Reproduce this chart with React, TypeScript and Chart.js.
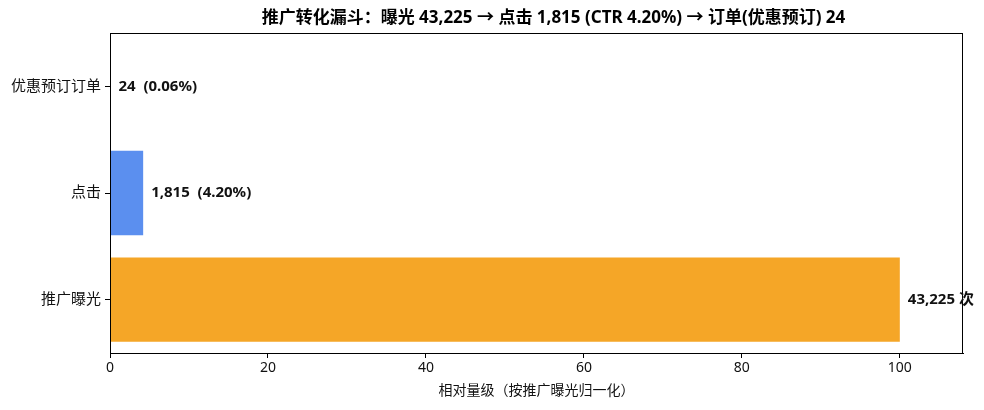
import { useEffect, useRef } from "react"
import { Chart, registerables } from "chart.js"

Chart.register(...registerables)

const categories = ["优惠预订订单", "点击", "推广曝光"]
const counts = [24, 1815, 43225]
const valueLabels = ["24  (0.06%)", "1,815  (4.20%)", "43,225 次"]
const barColors = ["#5B8FEF", "#5B8FEF", "#F5A627"]
const xTicks = [0, 20, 40, 60, 80, 100]
const titleText = "推广转化漏斗：曝光 43,225 → 点击 1,815 (CTR 4.20%) → 订单(优惠预订) 24"
const xTitle = "相对量级（按推广曝光归一化）"

const FONT = "'Noto Sans', 'Noto Sans CJK SC', sans-serif"

// relative to exposure (= 100)
const relative = counts.map((c) => (c / counts[counts.length - 1]) * 100)

const frameAndLabels = {
  id: "frameAndLabels",
  afterDatasetsDraw(chart: any) {
    const { ctx, chartArea } = chart
    const { left, right, top, bottom } = chartArea
    ctx.save()
    ctx.strokeStyle = "#000"
    ctx.lineWidth = 1
    ctx.strokeRect(left + 0.5, top + 0.5, right - left - 1, bottom - top)

    const meta = chart.getDatasetMeta(0)
    ctx.fillStyle = "#111"
    ctx.font = `bold 15px ${FONT}`
    ctx.textBaseline = "middle"
    ctx.textAlign = "left"
    meta.data.forEach((bar: any, i: number) => {
      ctx.fillText(valueLabels[i], bar.x + 8, bar.y)
    })

    ctx.font = `bold 17px ${FONT}`
    ctx.textAlign = "center"
    ctx.fillStyle = "#000"
    ctx.fillText(titleText, (left + right) / 2 + 17, 18)
    ctx.restore()
  },
}

export default function App() {
  const canvasRef = useRef<HTMLCanvasElement>(null)

  useEffect(() => {
    document.body.style.margin = "0"
    if (!canvasRef.current) return
    const chart = new Chart(canvasRef.current, {
      type: "bar",
      data: {
        labels: categories,
        datasets: [
          {
            data: relative,
            backgroundColor: barColors,
            borderWidth: 0,
            barPercentage: 0.79,
            categoryPercentage: 1,
          },
        ],
      },
      options: {
        indexAxis: "y",
        animation: false,
        responsive: false,
        layout: { padding: { top: 33, right: 21, left: 0, bottom: 0 } },
        plugins: {
          legend: { display: false },
          tooltip: { enabled: false },
        },
        scales: {
          x: {
            min: 0,
            max: 108,
            afterBuildTicks: (axis: any) => {
              axis.ticks = xTicks.map((v) => ({ value: v }))
            },
            afterFit: (axis: any) => {
              axis.height = 57
            },
            grid: {
              drawOnChartArea: false,
              drawTicks: true,
              tickLength: 5,
              color: "#000",
            },
            border: { display: true, color: "#000" },
            ticks: {
              color: "#111",
              font: { family: FONT, size: 14 },
              padding: 2,
              maxRotation: 0,
            },
            title: {
              display: true,
              text: xTitle,
              color: "#111",
              font: { family: FONT, size: 14 },
              padding: { top: 4, bottom: 11 },
            },
          },
          y: {
            afterFit: (axis: any) => {
              axis.width = 110
            },
            grid: {
              offset: false,
              drawOnChartArea: false,
              drawTicks: true,
              tickLength: 5,
              color: "#000",
            },
            border: { display: true, color: "#000" },
            ticks: {
              color: "#111",
              font: { family: FONT, size: 15 },
              padding: 4,
            },
          },
        },
      },
      plugins: [frameAndLabels],
    })
    return () => chart.destroy()
  }, [])

  return (
    <div style={{ width: 984, height: 410, background: "#fff" }}>
      <canvas ref={canvasRef} width={984} height={410} />
    </div>
  )
}
